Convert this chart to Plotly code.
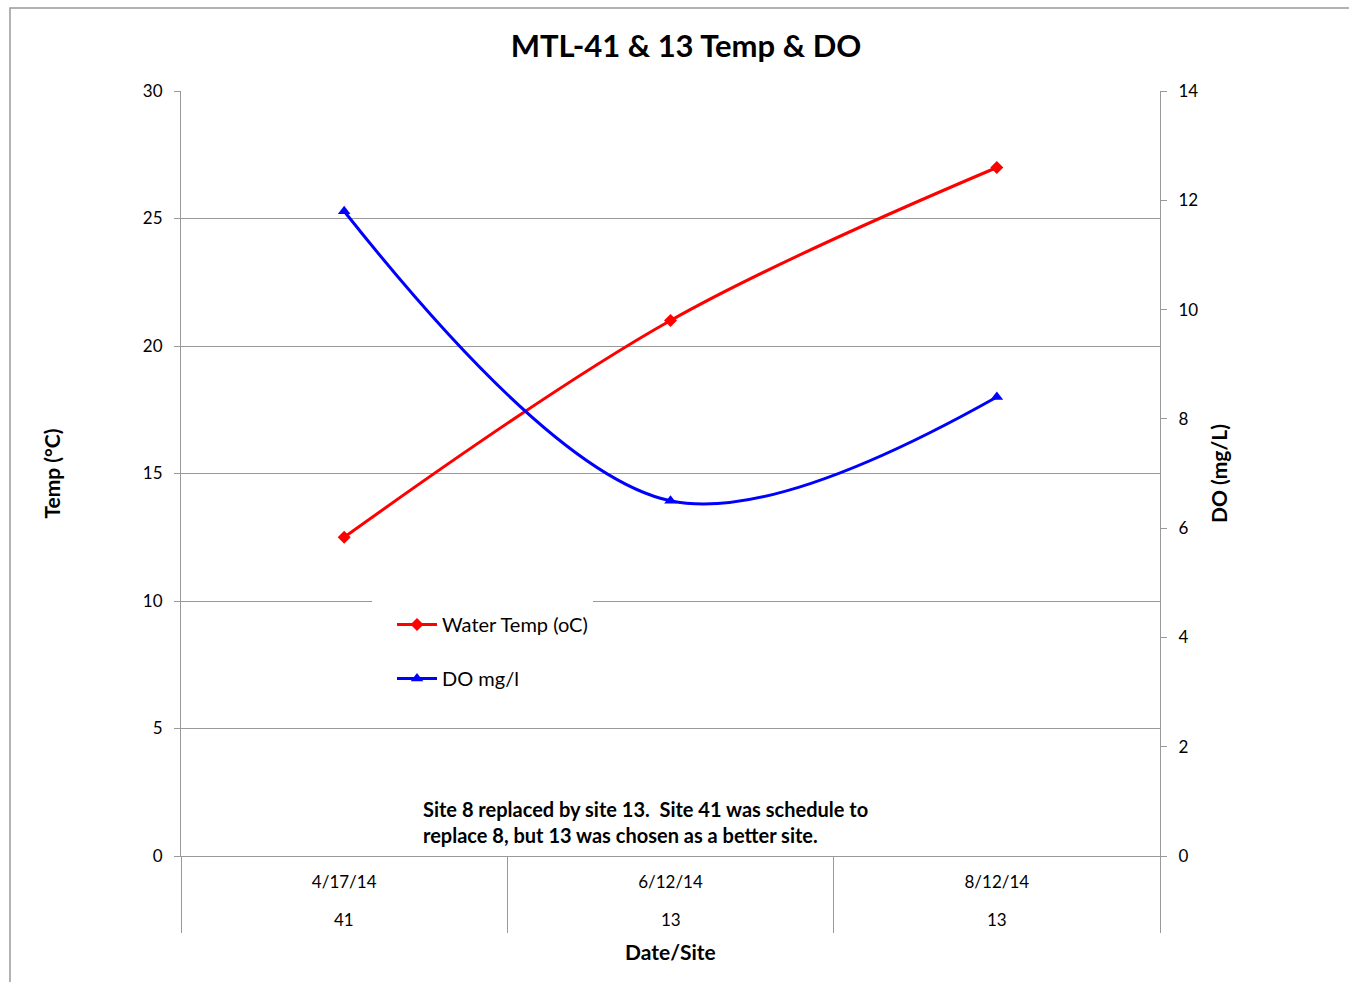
import plotly.graph_objects as go

dates = ["4/17/14", "6/12/14", "8/12/14"]
sites = ["41", "13", "13"]
water_temp = [12.5, 21.0, 27.0]
do_mgl = [11.8, 6.5, 8.4]

temp_ticks = [0, 5, 10, 15, 20, 25, 30]
do_ticks = [0, 2, 4, 6, 8, 10, 12, 14]

FONT = "Lato"
W, H = 1349, 982
L, R, T, B = 181, 189, 91, 126
pw, ph = W - L - R, H - T - B

xpos = list(range(len(dates)))
bounds = [i - 0.5 for i in range(len(dates) + 1)]

fig = go.Figure()
fig.add_trace(go.Scatter(
    x=xpos, y=water_temp, name="Water Temp (oC)", mode="lines+markers",
    line=dict(color="#FF0000", width=3, shape="spline"),
    marker=dict(symbol="diamond", size=10, color="#FF0000"),
    legendgroup="a", yaxis="y"))
fig.add_trace(go.Scatter(
    x=xpos, y=do_mgl, name="DO mg/l", mode="lines+markers",
    line=dict(color="#0000FF", width=3, shape="spline"),
    marker=dict(symbol="triangle-up", size=11, color="#0000FF"),
    legendgroup="b", yaxis="y2"))

fig.update_layout(
    width=W, height=H,
    margin=dict(l=L, r=R, t=T, b=B, autoexpand=False),
    paper_bgcolor="white", plot_bgcolor="white",
    font=dict(family=FONT, size=17, color="black"),
    title=dict(text="<b>MTL-41 & 13 Temp & DO</b>", x=686 / W, xref="container",
               xanchor="center", y=1 - 46 / H, yref="container", yanchor="middle",
               font=dict(size=31, family=FONT)),
    xaxis=dict(range=[-0.5, len(dates) - 0.5], tickmode="array", tickvals=xpos,
               ticktext=dates, ticks="", showgrid=False, zeroline=False,
               showline=True, linecolor="#999999", linewidth=1,
               tickfont=dict(size=17), ticklabelstandoff=11,
               minor=dict(tickmode="array", tickvals=bounds, ticks="outside",
                          ticklen=76, tickcolor="#999999", tickwidth=1, showgrid=False)),
    yaxis=dict(range=[0, 30], tickmode="array", tickvals=temp_ticks, showgrid=True,
               gridcolor="#999999", gridwidth=1, zeroline=False, showline=True,
               linecolor="#999999", ticks="outside", ticklen=6, tickcolor="#999999",
               tickfont=dict(size=17), ticklabelstandoff=8,
               title=dict(text="<b>Temp (°C)</b>", font=dict(size=21), standoff=76)),
    yaxis2=dict(range=[0, 14], tickmode="array", tickvals=do_ticks, overlaying="y",
                side="right", showgrid=False, zeroline=False, showline=True,
                linecolor="#999999", ticks="outside", ticklen=6, tickcolor="#999999",
                tickfont=dict(size=17), ticklabelstandoff=8,
                title=dict(text="<b>DO (mg/L)</b>", font=dict(size=21), standoff=15)),
    legend=dict(x=(372 - L) / pw, y=(856 - 596) / ph, xanchor="left", yanchor="top",
                bgcolor="white", borderwidth=0, font=dict(size=20, family=FONT),
                title=dict(text=" ", font=dict(size=7)),
                tracegroupgap=25, traceorder="grouped", itemwidth=40, indentation=20),
    showlegend=True,
)

# second level of category labels (site numbers)
for xi, s in zip(xpos, sites):
    fig.add_annotation(text=s, xref="x", yref="paper", x=xi, y=-(919 - 856) / ph,
                       xanchor="center", yanchor="middle", showarrow=False,
                       font=dict(size=17, family=FONT))

# x axis title
fig.add_annotation(text="<b>Date/Site</b>", xref="paper", yref="paper", x=0.5,
                   y=-(951 - 856) / ph, xanchor="center", yanchor="middle",
                   showarrow=False, font=dict(size=21, family=FONT))

fig.add_annotation(
    text="<b>Site 8 replaced by site 13.  Site 41 was schedule to<br>replace 8, but 13 was chosen as a better site.</b>",
    xref="paper", yref="paper", x=(421 - L) / pw, y=(856 - 822) / ph,
    xanchor="left", yanchor="middle", align="left", showarrow=False,
    font=dict(size=20, family=FONT))

# chart frame
fig.add_shape(type="rect", xref="paper", yref="paper",
              x0=(10 - L) / pw, x1=(1400 - L) / pw,
              y0=-(1000 - 856) / ph, y1=1 + (T - 8) / ph,
              line=dict(color="#999999", width=1.5), layer="below")

fig.write_html("out.html")
